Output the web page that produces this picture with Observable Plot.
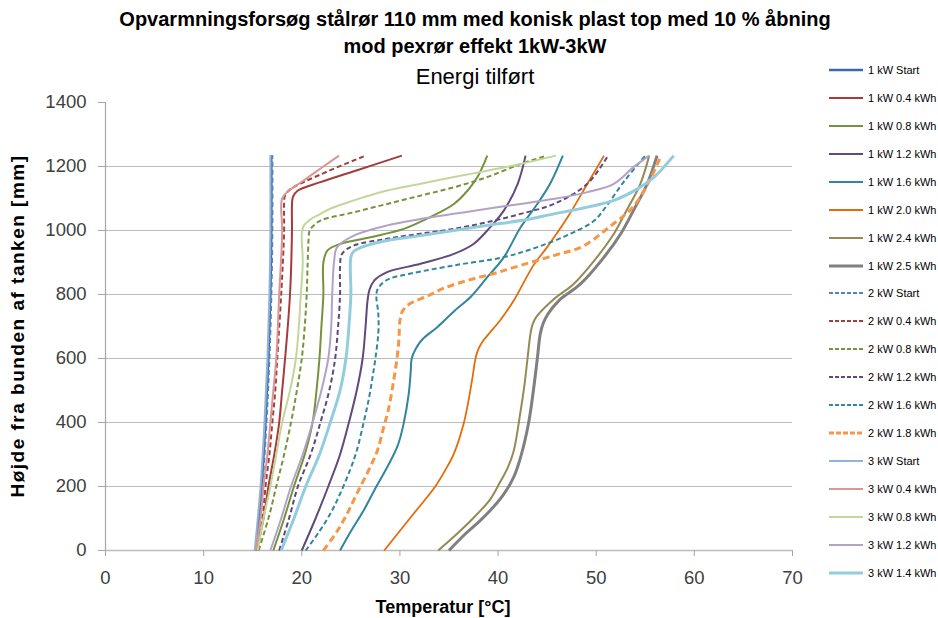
<!DOCTYPE html>
<html><head><meta charset="utf-8">
<script src="https://cdn.jsdelivr.net/npm/d3@7"></script>
<script src="https://cdn.jsdelivr.net/npm/@observablehq/plot@0.6"></script>
<style>
body{margin:0;background:#fff;}
#wrap{position:relative;width:938px;height:618px;overflow:hidden;font-family:"Liberation Sans",Arial,sans-serif;background:#fff;}
#chart{position:absolute;left:0;top:0;}
.t{position:absolute;left:0;width:950px;text-align:center;color:#000;white-space:nowrap;line-height:1.15;}
#legend{position:absolute;left:828px;top:56px;}
.li{height:27.94px;display:flex;align-items:center;font-size:11px;color:#000;white-space:nowrap;}
.li svg{margin-right:4px;}
#xt{position:absolute;left:443px;top:607px;transform:translate(-50%,-50%);font-weight:bold;font-size:18px;white-space:nowrap;}
#yt{position:absolute;left:18px;top:326px;transform:translate(-50%,-50%) rotate(-90deg);font-weight:bold;font-size:19px;letter-spacing:1.5px;white-space:nowrap;}
</style></head>
<body><div id="wrap">
<div id="chart"></div>
<div class="t" style="top:8px;font-size:20px;font-weight:bold;">Opvarmningsforsøg stålrør 110 mm med konisk plast top med 10 % åbning</div>
<div class="t" style="top:35px;font-size:20px;font-weight:bold;">mod pexrør effekt 1kW-3kW</div>
<div class="t" style="top:64px;font-size:22px;">Energi tilført</div>
<div id="xt">Temperatur [°C]</div>
<div id="yt">Højde fra bunden af tanken [mm]</div>
<div id="legend"></div>
</div>
<script>
// ---- data: [height mm, temperature °C] ----
const xTicks = [0,10,20,30,40,50,60,70];
const yTicks = [0,200,400,600,800,1000,1200,1400];
const yGrid = [200,400,600,800,1000,1200];

const seriesNames = ["1 kW Start","1 kW 0.4 kWh","1 kW 0.8 kWh","1 kW 1.2 kWh","1 kW 1.6 kWh","1 kW 2.0 kWh","1 kW 2.4 kWh","1 kW 2.5 kWh",
  "2 kW Start","2 kW 0.4 kWh","2 kW 0.8 kWh","2 kW 1.2 kWh","2 kW 1.6 kWh","2 kW 1.8 kWh",
  "3 kW Start","3 kW 0.4 kWh","3 kW 0.8 kWh","3 kW 1.2 kWh","3 kW 1.4 kWh"];

const s1kStart = [[0,15.3],[200,15.9],[400,16.3],[600,16.6],[800,16.8],[1000,16.9],[1235,16.9]];
const s1k04 = [[0,15.4],[100,16.1],[200,16.6],[300,17.2],[400,17.7],[500,18.0],[600,18.3],[800,18.8],[1000,19.0],[1080,19.0],[1105,19.1],[1125,19.6],[1151,21.9],[1190,25.8],[1234,30.2]];
const s1k08 = [[0,17.1],[100,18.2],[200,19.2],[300,20.3],[400,21.1],[500,21.5],[600,21.8],[700,22.0],[800,22.2],[900,22.2],[937,22.6],[958,23.9],[979,27.0],[1005,30.4],[1042,33.1],[1083,35.5],[1125,36.9],[1167,37.9],[1234,38.9]];
const s1k12 = [[0,20.0],[100,21.4],[200,22.7],[300,23.9],[400,24.8],[500,25.6],[600,26.2],[700,26.5],[781,26.7],[815,26.9],[844,27.4],[870,28.7],[896,32.1],[927,35.5],[958,37.5],[1000,38.9],[1063,40.6],[1146,42.0],[1234,42.8]];
const s1k16 = [[0,23.9],[60,25.0],[125,26.3],[200,27.6],[260,28.7],[330,29.8],[400,30.4],[490,30.9],[560,31.1],[600,31.2],[630,31.6],[660,32.3],[698,33.8],[750,35.6],[792,37.2],[854,38.9],[917,40.6],[1010,42.3],[1083,44.0],[1146,45.3],[1234,46.6]];
const s1k20 = [[0,28.4],[100,31.0],[200,33.6],[250,34.6],[303,35.5],[397,36.5],[470,37.0],[542,37.4],[600,37.7],[630,38.0],[656,38.5],[719,40.2],[781,41.6],[891,43.6],[948,45.0],[1042,47.1],[1146,49.1],[1234,50.8]];
const s1k24 = [[0,33.9],[60,36.1],[115,37.9],[160,39.2],[208,40.1],[260,41.0],[312,41.6],[437,42.3],[520,42.7],[600,43.0],[677,43.3],[705,43.5],[730,43.9],[786,45.7],[833,47.7],[906,49.8],[990,51.8],[1063,53.1],[1146,54.5],[1234,55.4]];
const s1k25 = [[0,35.0],[50,36.6],[94,38.2],[135,39.5],[177,40.6],[230,41.6],[292,42.3],[397,43.1],[500,43.6],[600,44.0],[677,44.3],[710,44.6],[740,45.1],[781,46.2],[833,48.4],[917,50.8],[990,52.5],[1063,53.8],[1146,55.2],[1234,56.2]];

const s2kStart = [[0,15.5],[200,16.0],[400,16.4],[600,16.7],[800,16.9],[1000,17.0],[1235,17.0]];
const s2k04 = [[0,15.5],[100,16.0],[200,16.3],[300,16.7],[400,17.0],[500,17.3],[600,17.5],[800,17.9],[1000,18.2],[1085,18.2],[1110,18.3],[1130,18.9],[1175,21.9],[1234,26.5]];
const s2k08 = [[0,15.6],[100,16.6],[200,17.4],[300,18.2],[400,18.9],[500,19.5],[600,20.0],[700,20.3],[800,20.5],[900,20.6],[975,20.7],[1000,20.8],[1015,21.2],[1031,21.9],[1057,25.3],[1083,28.7],[1109,32.1],[1135,35.5],[1167,38.9],[1208,42.3],[1234,45.0]];
const s2k12 = [[0,17.7],[100,18.7],[200,19.6],[300,20.9],[400,21.9],[500,22.8],[600,23.4],[700,23.7],[800,23.9],[885,23.9],[927,24.1],[953,25.3],[974,28.7],[990,32.1],[1005,35.5],[1026,38.9],[1052,42.3],[1083,45.7],[1146,49.1],[1234,51.2]];
const s2k16 = [[0,20.4],[60,21.8],[120,23.0],[177,23.9],[250,24.9],[312,25.6],[400,26.3],[469,26.8],[540,27.2],[600,27.5],[680,27.8],[740,27.8],[792,27.6],[815,27.7],[835,28.2],[850,29.0],[865,31.0],[891,35.5],[917,40.6],[948,44.0],[990,47.4],[1031,49.8],[1083,51.2],[1156,52.9],[1234,55.0]];
const s2k18 = [[0,22.2],[60,23.6],[120,24.7],[177,25.6],[250,26.8],[312,27.7],[380,28.3],[437,28.8],[520,29.3],[600,29.7],[660,29.9],[719,30.0],[750,30.3],[771,31.0],[795,32.8],[820,34.5],[845,37.0],[865,39.5],[891,42.3],[922,45.7],[950,48.6],[1010,51.3],[1075,53.8],[1160,55.5],[1234,56.6]];

const s3kStart = [[0,15.2],[200,15.8],[400,16.2],[600,16.5],[800,16.7],[1000,16.8],[1235,16.8]];
const s3k04 = [[0,15.3],[100,15.8],[200,16.1],[300,16.5],[400,16.8],[500,17.1],[600,17.4],[800,17.7],[1000,18.0],[1075,17.9],[1100,18.0],[1120,18.5],[1150,19.9],[1200,22.2],[1234,23.8]];
const s3k08 = [[0,15.5],[100,16.1],[200,16.8],[300,17.4],[400,18.0],[500,18.8],[600,19.4],[700,19.7],[800,19.9],[900,20.1],[990,20.0],[1015,20.2],[1035,20.9],[1052,21.9],[1068,22.9],[1094,25.3],[1125,28.7],[1146,32.1],[1167,35.5],[1187,38.9],[1208,42.3],[1234,45.9]];
const s3k12 = [[0,16.8],[100,17.9],[200,18.9],[300,20.1],[400,21.1],[500,22.0],[600,22.7],[700,23.0],[800,23.1],[906,23.3],[948,23.6],[984,25.3],[1016,28.7],[1036,32.1],[1052,35.5],[1068,38.9],[1083,42.3],[1099,45.7],[1120,49.1],[1146,51.8],[1198,53.8],[1234,55.4]];
const s3k14 = [[0,17.9],[100,19.2],[200,20.4],[300,21.8],[400,22.9],[500,23.9],[600,24.5],[700,24.8],[800,25.0],[917,25.0],[935,25.3],[950,26.3],[969,28.7],[984,32.1],[1000,35.5],[1016,38.9],[1031,42.3],[1052,45.7],[1073,49.1],[1094,51.8],[1130,54.2],[1167,55.9],[1234,57.9]];

const seriesValues = [s1kStart,s1k04,s1k08,s1k12,s1k16,s1k20,s1k24,s1k25,s2kStart,s2k04,s2k08,s2k12,s2k16,s2k18,s3kStart,s3k04,s3k08,s3k12,s3k14];

// ---- styles ----
const D = "5,3", DT = "7,4";
const seriesStyles = [
  {c:"#3c6aa6", w:2.4, d:null},
  {c:"#a33c3a", w:2, d:null},
  {c:"#76923c", w:2, d:null},
  {c:"#604a7b", w:2, d:null},
  {c:"#31859c", w:2, d:null},
  {c:"#e46c0a", w:1.8, d:null},
  {c:"#948a54", w:2, d:null},
  {c:"#808080", w:3, d:null},
  {c:"#4f81bd", w:2, d:D},
  {c:"#a0403e", w:2, d:D},
  {c:"#77933c", w:2, d:D},
  {c:"#5f497a", w:2, d:D},
  {c:"#31859c", w:2, d:D},
  {c:"#f79646", w:3, d:DT},
  {c:"#95b3d7", w:2, d:null},
  {c:"#d99694", w:2, d:null},
  {c:"#c3d69b", w:2, d:null},
  {c:"#b3a2c7", w:2, d:null},
  {c:"#93cddd", w:3, d:null}
];

const font = '"Liberation Sans", Arial, sans-serif';
const lineMarks = seriesValues.map((vals, i) => {
  const st = seriesStyles[i];
  return Plot.line(vals, {x: d => d[1], y: d => d[0], stroke: st.c, strokeWidth: st.w,
    strokeDasharray: st.d || undefined, curve: "catmull-rom", strokeLinecap: "butt"});
});

const chart = Plot.plot({
  width: 938, height: 618,
  marginLeft: 105, marginRight: 146, marginTop: 102, marginBottom: 68,
  x: {domain: [0, 70]},
  y: {domain: [0, 1400]},
  style: {fontFamily: font, fontSize: "18.5px", background: "transparent", color: "#404040"},
  marks: [
    Plot.ruleY(yGrid, {stroke: "#bcbcbc", strokeWidth: 1.2}),
    Plot.ruleX([0], {stroke: "#a6a6a6", strokeWidth: 1.2}),
    Plot.ruleY([0], {stroke: "#bcbcbc", strokeWidth: 1.6}),
    Plot.axisY(yTicks, {tickSize: 7, tickPadding: 12, stroke: "#a6a6a6", fill: "#404040", label: null, tickFormat: d => String(d)}),
    Plot.axisX(xTicks, {tickSize: 6, tickPadding: 14, stroke: "#a6a6a6", fill: "#404040", label: null, tickFormat: d => String(d)}),
    ...lineMarks
  ]
});
document.getElementById("chart").appendChild(chart);

// legend
const lg = document.getElementById("legend");
seriesNames.forEach((name, i) => {
  const st = seriesStyles[i];
  const row = document.createElement("div");
  row.className = "li";
  const ns = "http://www.w3.org/2000/svg";
  const svg = document.createElementNS(ns, "svg");
  svg.setAttribute("width", 36); svg.setAttribute("height", 6);
  const ln = document.createElementNS(ns, "line");
  ln.setAttribute("x1", 1); ln.setAttribute("x2", 35); ln.setAttribute("y1", 3); ln.setAttribute("y2", 3);
  ln.setAttribute("stroke", st.c); ln.setAttribute("stroke-width", st.w);
  if (st.d) ln.setAttribute("stroke-dasharray", st.d === D ? "4,2" : "5,2");
  svg.appendChild(ln);
  row.appendChild(svg);
  const sp = document.createElement("span");
  sp.textContent = name;
  row.appendChild(sp);
  lg.appendChild(row);
});
</script>
</body></html>
